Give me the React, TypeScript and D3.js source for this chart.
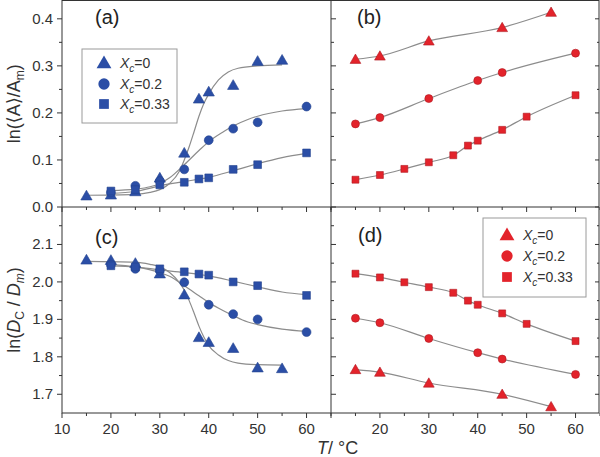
import React from "react";
import * as d3 from "d3";

// ---------- data ----------
// Panel (a): ln(<A>/A_m), blue
const A_TRI_T = [15, 20, 25, 30, 35, 38, 40, 45, 50, 55];
const A_TRI_V = [0.024, 0.026, 0.033, 0.062, 0.115, 0.23, 0.245, 0.259, 0.31, 0.3125];
const A_CIR_T = [20, 25, 30, 35, 40, 45, 50, 60];
const A_CIR_V = [0.031, 0.045, 0.055, 0.08, 0.142, 0.1665, 0.18, 0.2135];
const A_SQR_T = [20, 25, 30, 35, 38, 40, 45, 50, 60];
const A_SQR_V = [0.034, 0.037, 0.047, 0.0525, 0.0596, 0.062, 0.08, 0.09, 0.115];
// fitted curves in (a)
const A_TRI_FIT_T = [15, 25, 28, 30, 32, 34, 35, 36, 37, 38, 39, 40, 42, 44, 46, 50, 55];
const A_TRI_FIT_V = [0.025, 0.027, 0.031, 0.037, 0.05, 0.076, 0.1, 0.128, 0.16, 0.193, 0.22, 0.24, 0.27, 0.287, 0.295, 0.3, 0.302];
const A_CIR_FIT_T = [20, 25, 28, 30, 32, 35, 38, 40, 43, 45, 48, 50, 55, 60];
const A_CIR_FIT_V = [0.035, 0.038, 0.043, 0.05, 0.062, 0.09, 0.12, 0.139, 0.16, 0.172, 0.186, 0.193, 0.204, 0.209];
const A_SQR_FIT_T = [20, 25, 30, 35, 40, 45, 50, 55, 60];
const A_SQR_FIT_V = [0.029, 0.033, 0.045, 0.054, 0.063, 0.077, 0.092, 0.105, 0.114];

// Panel (b): red
const B_TRI_T = [15, 20, 30, 45, 55];
const B_TRI_V = [0.314, 0.321, 0.353, 0.3815, 0.414];
const B_CIR_T = [15, 20, 30, 40, 45, 60];
const B_CIR_V = [0.1766, 0.19, 0.2305, 0.2688, 0.2858, 0.327];
const B_SQR_T = [15, 20, 25, 30, 35, 38, 40, 45, 50, 60];
const B_SQR_V = [0.058, 0.068, 0.081, 0.095, 0.11, 0.1305, 0.141, 0.164, 0.192, 0.2376];

// Panel (c): ln(D_C/D_m), blue
const C_TRI_T = [15, 20, 25, 30, 35, 38, 40, 45, 50, 55];
const C_TRI_V = [2.059, 2.058, 2.05, 2.022, 1.966, 1.852, 1.839, 1.823, 1.771, 1.769];
const C_CIR_T = [20, 25, 30, 35, 40, 45, 50, 60];
const C_CIR_V = [2.046, 2.035, 2.03, 1.999, 1.939, 1.914, 1.9, 1.866];
const C_SQR_T = [20, 25, 30, 35, 38, 40, 45, 50, 60];
const C_SQR_V = [2.043, 2.04, 2.035, 2.027, 2.021, 2.018, 2.0, 1.99, 1.964];
const C_TRI_FIT_T = [15, 25, 28, 30, 32, 34, 35, 36, 37, 38, 39, 40, 42, 44, 46, 50, 55];
const C_TRI_FIT_V = [2.055, 2.053, 2.047, 2.04, 2.025, 1.998, 1.978, 1.95, 1.917, 1.882, 1.853, 1.83, 1.805, 1.79, 1.783, 1.779, 1.778];
const C_CIR_FIT_T = [20, 25, 30, 32, 35, 38, 40, 43, 45, 48, 50, 55, 60];
const C_CIR_FIT_V = [2.047, 2.04, 2.025, 2.015, 1.99, 1.963, 1.945, 1.923, 1.91, 1.893, 1.886, 1.874, 1.868];
const C_SQR_FIT_T = [20, 25, 30, 35, 40, 45, 50, 55, 60];
const C_SQR_FIT_V = [2.043, 2.04, 2.032, 2.025, 2.016, 2.002, 1.987, 1.973, 1.966];

// Panel (d): red
const D_TRI_T = [15, 20, 30, 45, 55];
const D_TRI_V = [1.766, 1.759, 1.73, 1.7, 1.667];
const D_CIR_T = [15, 20, 30, 40, 45, 60];
const D_CIR_V = [1.903, 1.891, 1.849, 1.811, 1.794, 1.753];
const D_SQR_T = [15, 20, 25, 30, 35, 38, 40, 45, 50, 60];
const D_SQR_V = [2.022, 2.012, 1.999, 1.986, 1.971, 1.95, 1.939, 1.916, 1.888, 1.842];

const X_TICKS = [10, 20, 30, 40, 50, 60];
const X_MINOR = [15, 25, 35, 45, 55, 65];
const YA_TICKS = [0.0, 0.1, 0.2, 0.3, 0.4];
const YA_MINOR = [0.05, 0.15, 0.25, 0.35];
const YC_TICKS = [1.7, 1.8, 1.9, 2.0, 2.1];
const YC_MINOR = [1.75, 1.85, 1.95, 2.05, 2.15];
const LEGEND = ["0", "0.2", "0.33"];

// ---------- layout ----------
const W = 600, H = 457;
const XL = 62, XM = 331, XR = 599;
const YT = 0.5, YMID = 207, YB = 413;
const BLUE = "#2b4ea6";
const RED = "#e3232b";
const FIT = "#8c8c8c";
const FONT = "'Liberation Sans', Arial, 'DejaVu Sans', sans-serif";

const xLeft = d3.scaleLinear().domain([10, 65]).range([XL, XM]);
const xRight = d3.scaleLinear().domain([10, 65]).range([XM, XR + 1]);
const yTop = d3.scaleLinear().domain([0, 0.44]).range([YMID, 0]);
const yBot = d3.scaleLinear().domain([1.65, 2.2]).range([YB, YMID]);

const SHAPES = [d3.symbolTriangle, d3.symbolCircle, d3.symbolSquare];

function sym(i: number, size: number) {
  return d3.symbol().type(SHAPES[i]).size(size)() as string;
}

function zip(t: number[], v: number[]) {
  return t.map((x, i) => [x, v[i]] as [number, number]);
}

type Series = { t: number[]; v: number[]; shape: number };

function Panel(props: {
  x: d3.ScaleLinear<number, number>;
  y: d3.ScaleLinear<number, number>;
  series: Series[];
  lines: [number[], number[]][];
  color: string;
  sizes: number[];
}) {
  const { x, y, series, lines, color, sizes } = props;
  const line = d3
    .line<[number, number]>()
    .x((d) => x(d[0]))
    .y((d) => y(d[1]))
    .curve(d3.curveMonotoneX);
  return (
    <g>
      {lines.map((l, i) => (
        <path key={"l" + i} d={line(zip(l[0], l[1])) as string} fill="none" stroke={FIT} strokeWidth={1.2} />
      ))}
      {series.map((s, si) =>
        s.t.map((t, i) => (
          <path
            key={si + "-" + i}
            d={sym(s.shape, sizes[s.shape])}
            transform={`translate(${x(t)},${y(s.v[i]) + (s.shape === 0 ? 1 : 0)})`}
            fill={color}
            stroke={color === RED ? "#b01820" : "#23438f"}
            strokeWidth={0.6}
          />
        ))
      )}
    </g>
  );
}

function Legend(props: { x: number; y: number; w: number; h: number; mx: number; tx: number; rows: number[]; color: string }) {
  const { x, y, w, h, mx, tx, rows, color } = props;
  const sizes = [95, 100, 95];
  return (
    <g>
      <rect x={x} y={y} width={w} height={h} fill="white" stroke="#9a9a9a" strokeWidth={1} />
      {LEGEND.map((lab, i) => (
        <g key={i}>
          <path d={sym(i, sizes[i])} transform={`translate(${mx},${rows[i] + (i === 0 ? 1 : 0)})`} fill={color} />
          <text x={tx} y={rows[i] + 5} fontSize={14} fill="#333" fontFamily={FONT}>
            <tspan fontStyle="italic">X</tspan>
            <tspan fontStyle="italic" fontSize={10} dy={4}>c</tspan>
            <tspan dy={-4}>{"=" + lab}</tspan>
          </text>
        </g>
      ))}
    </g>
  );
}

export default function App() {
  const topTicks = (x: d3.ScaleLinear<number, number>) => (
    <g>
      {X_TICKS.map((t) => (
        <line key={"m" + t} x1={x(t)} x2={x(t)} y1={YMID} y2={YMID + 5} stroke="#333" />
      ))}
      {X_MINOR.map((t) => (
        <line key={"n" + t} x1={x(t)} x2={x(t)} y1={YMID} y2={YMID + 3} stroke="#333" />
      ))}
      {X_TICKS.map((t) => (
        <line key={"b" + t} x1={x(t)} x2={x(t)} y1={YB} y2={YB + 5} stroke="#333" />
      ))}
      {X_MINOR.map((t) => (
        <line key={"c" + t} x1={x(t)} x2={x(t)} y1={YB} y2={YB + 3} stroke="#333" />
      ))}
    </g>
  );
  const yTicks = (y: d3.ScaleLinear<number, number>, major: number[], minor: number[]) => (
    <g>
      {major.map((t) => (
        <g key={"M" + t}>
          <line x1={XL - 5} x2={XL} y1={y(t)} y2={y(t)} stroke="#333" />
          <line x1={XM} x2={XM + 5} y1={y(t)} y2={y(t)} stroke="#333" />
          <line x1={XR - 4} x2={XR} y1={y(t)} y2={y(t)} stroke="#333" />
        </g>
      ))}
      {minor.map((t) => (
        <g key={"N" + t}>
          <line x1={XL - 3} x2={XL} y1={y(t)} y2={y(t)} stroke="#333" />
          <line x1={XM} x2={XM + 3} y1={y(t)} y2={y(t)} stroke="#333" />
          <line x1={XR - 2} x2={XR} y1={y(t)} y2={y(t)} stroke="#333" />
        </g>
      ))}
    </g>
  );

  return (
    <svg width={W} height={H} style={{ position: "absolute", left: 0, top: 0, background: "white" }} fontFamily={FONT}>
      {/* frames */}
      <rect x={XL} y={YT} width={XR - XL} height={YB - YT} fill="none" stroke="#333" strokeWidth={1} />
      <line x1={XL} x2={XR} y1={YMID} y2={YMID} stroke="#333" />
      <line x1={XM} x2={XM} y1={YT} y2={YB} stroke="#333" />
      {topTicks(xLeft)}
      {topTicks(xRight)}
      {yTicks(yTop, YA_TICKS, YA_MINOR)}
      {yTicks(yBot, YC_TICKS, YC_MINOR)}

      {/* tick labels */}
      {YA_TICKS.map((t) => (
        <text key={"ya" + t} x={53} y={yTop(t) + 5} fontSize={15} textAnchor="end" fill="#333">
          {t.toFixed(1)}
        </text>
      ))}
      {YC_TICKS.map((t) => (
        <text key={"yc" + t} x={53} y={yBot(t) + 5} fontSize={15} textAnchor="end" fill="#333">
          {t.toFixed(1)}
        </text>
      ))}
      {X_TICKS.map((t) => (
        <text key={"xl" + t} x={xLeft(t)} y={434} fontSize={15} textAnchor="middle" fill="#333">
          {t}
        </text>
      ))}
      {X_TICKS.filter((t) => t > 10).map((t) => (
        <text key={"xr" + t} x={xRight(t)} y={434} fontSize={15} textAnchor="middle" fill="#333">
          {t}
        </text>
      ))}

      {/* axis titles */}
      <text transform={`translate(20,${(YT + YMID) / 2}) rotate(-90)`} textAnchor="middle" fontSize={18} fill="#333">
        <tspan>{"ln(\u27E8A\u27E9/A"}</tspan>
        <tspan fontSize={12} dy={4}>m</tspan>
        <tspan dy={-4}>)</tspan>
      </text>
      <text transform={`translate(20,${(YMID + YB) / 2}) rotate(-90)`} textAnchor="middle" fontSize={18} fill="#333">
        <tspan>ln(</tspan>
        <tspan fontStyle="italic">D</tspan>
        <tspan fontSize={12} dy={4}>C</tspan>
        <tspan dy={-4}>{" / "}</tspan>
        <tspan fontStyle="italic">D</tspan>
        <tspan fontSize={12} fontStyle="italic" dy={4}>m</tspan>
        <tspan dy={-4}>)</tspan>
      </text>
      <text x={317} y={454} fontSize={18} fill="#333">
        <tspan fontStyle="italic">T</tspan>
        <tspan>{"/ \u00B0C"}</tspan>
      </text>

      {/* panel labels */}
      <text x={95} y={24} fontSize={20} fill="#222">(a)</text>
      <text x={357} y={24} fontSize={20} fill="#222">(b)</text>
      <text x={95} y={244} fontSize={20} fill="#222">(c)</text>
      <text x={358} y={242} fontSize={20} fill="#222">(d)</text>

      <Legend x={82} y={49} w={95} h={74} mx={104} tx={120} rows={[63, 84, 104]} color={BLUE} />
      <Legend x={483} y={218} w={103} h={79} mx={507} tx={523} rows={[235, 256, 277]} color={RED} />

      <Panel
        x={xLeft}
        y={yTop}
        color={BLUE}
        sizes={[55, 62, 60]}
        lines={[
          [A_TRI_FIT_T, A_TRI_FIT_V],
          [A_CIR_FIT_T, A_CIR_FIT_V],
          [A_SQR_FIT_T, A_SQR_FIT_V],
        ]}
        series={[
          { t: A_TRI_T, v: A_TRI_V, shape: 0 },
          { t: A_CIR_T, v: A_CIR_V, shape: 1 },
          { t: A_SQR_T, v: A_SQR_V, shape: 2 },
        ]}
      />
      <Panel
        x={xRight}
        y={yTop}
        color={RED}
        sizes={[50, 50, 48]}
        lines={[
          [B_TRI_T, B_TRI_V],
          [B_CIR_T, B_CIR_V],
          [B_SQR_T, B_SQR_V],
        ]}
        series={[
          { t: B_TRI_T, v: B_TRI_V, shape: 0 },
          { t: B_CIR_T, v: B_CIR_V, shape: 1 },
          { t: B_SQR_T, v: B_SQR_V, shape: 2 },
        ]}
      />
      <Panel
        x={xLeft}
        y={yBot}
        color={BLUE}
        sizes={[55, 62, 60]}
        lines={[
          [C_TRI_FIT_T, C_TRI_FIT_V],
          [C_CIR_FIT_T, C_CIR_FIT_V],
          [C_SQR_FIT_T, C_SQR_FIT_V],
        ]}
        series={[
          { t: C_TRI_T, v: C_TRI_V, shape: 0 },
          { t: C_CIR_T, v: C_CIR_V, shape: 1 },
          { t: C_SQR_T, v: C_SQR_V, shape: 2 },
        ]}
      />
      <Panel
        x={xRight}
        y={yBot}
        color={RED}
        sizes={[50, 50, 48]}
        lines={[
          [D_TRI_T, D_TRI_V],
          [D_CIR_T, D_CIR_V],
          [D_SQR_T, D_SQR_V],
        ]}
        series={[
          { t: D_TRI_T, v: D_TRI_V, shape: 0 },
          { t: D_CIR_T, v: D_CIR_V, shape: 1 },
          { t: D_SQR_T, v: D_SQR_V, shape: 2 },
        ]}
      />
    </svg>
  );
}
